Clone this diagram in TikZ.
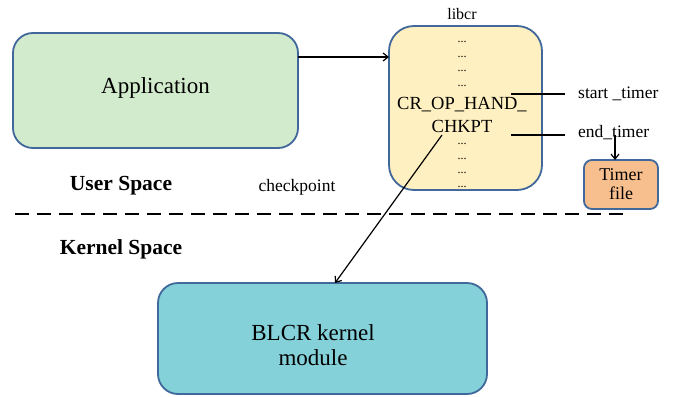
\documentclass[tikz,border=0pt]{standalone}
\usepackage{fontspec}
\setmainfont{Liberation Serif}
\usetikzlibrary{arrows.meta}
\definecolor{bordc}{HTML}{41689A}
\definecolor{appc}{HTML}{D3EBCD}
\definecolor{libc}{HTML}{FFF0C1}
\definecolor{timc}{HTML}{F8BF8E}
\definecolor{blcc}{HTML}{84D1D9}
\begin{document}
\begin{tikzpicture}[x=1pt,y=-1pt,
  boxst/.style={draw=bordc,line width=1.8pt,inner sep=0pt},
  conn/.style={line width=1.2pt,-{Straight Barb[length=5pt,width=8pt]}},
  plainline/.style={line width=1.1pt},
  lbl/.style={inner sep=0pt,font=\fontsize{17.5}{20}\selectfont}]
\useasboundingbox (0,0) rectangle (676,396);
% boxes
\draw[boxst,fill=appc,rounded corners=20pt] (13,33) rectangle (298,148);
\node[inner sep=0pt,font=\fontsize{23}{26}\selectfont] (app) at (155.5,88) {Application};
\coordinate (appR) at (298,57);
\draw[boxst,fill=libc,rounded corners=25pt] (389,26) rectangle (542,190);
\coordinate (libL) at (389,57);
\draw[boxst,fill=timc,rounded corners=8pt] (584,160) rectangle (658,209);
\coordinate (timT) at (615,160);
\node[inner sep=0pt,align=center,font=\fontsize{18}{19}\selectfont] (tim) at (621,184) {Timer\\file};
\draw[boxst,fill=blcc,rounded corners=20pt] (158,283) rectangle (487,394);
\coordinate (blcT) at (335,283);
\node[inner sep=0pt,align=center,font=\fontsize{23}{25}\selectfont] (blcr) at (313,345) {BLCR kernel\\module};
% libcr texts
\node[inner sep=0pt,font=\fontsize{16}{18}\selectfont] (libcr) at (462,14) {libcr};
\foreach \yy/\nm in {45/d1,60/d2,74/d3,89/d4,147/d5,162/d6,176/d7,190/d8}
  \node[inner sep=0pt,font=\fontsize{12}{12}\selectfont] (\nm) at (462,\yy-3) {...};
\node[inner sep=0pt,font=\fontsize{18.5}{20}\selectfont] (cr1) at (462,105) {CR\_OP\_HAND\_};
\node[inner sep=0pt,font=\fontsize{18.5}{20}\selectfont] (cr2) at (462,126) {CHKPT};
\coordinate (chk) at (442,135);
% timer lines
\coordinate (s1) at (511,94);
\coordinate (s2) at (565,94);
\coordinate (e1) at (511,135);
\coordinate (e2) at (565,135);
\coordinate (eA) at (615,135);
\draw[plainline] (s1) -- (s2);
\draw[plainline] (e1) -- (e2);
\node[lbl,anchor=west] (st) at (578,94) {start \_timer};
\node[lbl,anchor=west] (et) at (578,133) {end\_timer};
% arrows
\draw[conn] (appR) -- (libL);
\draw[conn] (eA) -- (timT);
\draw[conn] (chk) -- (blcT);
% dashed separator
\coordinate (dl) at (15,214);
\coordinate (dr) at (628,214);
\draw[line width=1.8pt,dash pattern=on 14pt off 8pt] (dl) -- (dr);
% side labels
\node[inner sep=0pt,font=\bfseries\fontsize{21.5}{24}\selectfont] (us) at (121,186) {User Space};
\node[lbl] (cp) at (297,187) {checkpoint};
\node[inner sep=0pt,font=\bfseries\fontsize{21.5}{24}\selectfont] (ks) at (121,249) {Kernel Space};
\end{tikzpicture}
\end{document}
